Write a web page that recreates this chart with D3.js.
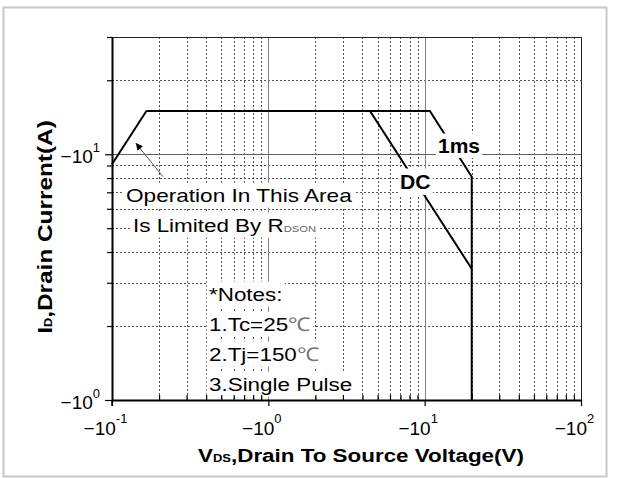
<!DOCTYPE html>
<html>
<head>
<meta charset="utf-8">
<script src="https://cdn.jsdelivr.net/npm/d3@7"></script>
<style>
  body { margin: 0; background: #fff; }
  svg { display: block; font-family: "Liberation Sans", Arial, sans-serif; }
</style>
</head>
<body>
<div class="canva"></div>
<script>
// Safe operating area, log-log
// curve data (V, A)
const rdsonV = [0.1, 0.166];
const rdsonI = [9.1, 15];
const dcV = [0.166, 4.47, 20];
const dcI = [15, 15, 3.42];
const msV = [0.166, 10.8, 20, 20];
const msI = [15, 15, 8.1, 1];

const xMajor = [0.1, 1, 10, 100];
const xExp = ['-1', '0', '1', '2'];
const yMajor = [1, 10];
const yExp = ['0', '1'];
const tickBase = '\u221210';

const svg = d3.select('.canva').append('svg')
    .attr('width', 618)
    .attr('height', 478);

// outer light frame
svg.append('rect')
    .attr('x', 3.5).attr('y', 7.5)
    .attr('width', 603).attr('height', 469)
    .attr('fill', 'none')
    .attr('stroke', '#c8c8c8')
    .attr('stroke-width', 2);

const pLeft = 112, pRight = 581, pTop = 37, pBottom = 400;

const x = d3.scaleLog().domain([0.1, 100]).range([pLeft, pRight]);
const y = d3.scaleLog().domain([1, 30]).range([pBottom, pTop]);

const isDecade = v => Math.abs(Math.log10(v) - Math.round(Math.log10(v))) < 1e-9;

// grid
const grid = svg.append('g').attr('shape-rendering', 'crispEdges');
grid.selectAll('.vminor')
    .data(x.ticks().filter(v => !isDecade(v)))
    .enter().append('line')
    .attr('x1', d => Math.round(x(d)) + 0.5).attr('x2', d => Math.round(x(d)) + 0.5)
    .attr('y1', pTop).attr('y2', pBottom)
    .attr('stroke', '#555').attr('stroke-dasharray', '2,2');
grid.selectAll('.hminor')
    .data(y.ticks().filter(v => !isDecade(v) && v < 30))
    .enter().append('line')
    .attr('y1', d => Math.round(y(d)) + 0.5).attr('y2', d => Math.round(y(d)) + 0.5)
    .attr('x1', pLeft).attr('x2', pRight)
    .attr('stroke', '#555').attr('stroke-dasharray', '2,2');
grid.selectAll('.vmajor')
    .data([1, 10])
    .enter().append('line')
    .attr('x1', d => Math.round(x(d)) + 0.5).attr('x2', d => Math.round(x(d)) + 0.5)
    .attr('y1', pTop).attr('y2', pBottom)
    .attr('stroke', '#808080').attr('stroke-width', 1.5);
grid.append('line')
    .attr('x1', pLeft).attr('x2', pRight)
    .attr('y1', Math.round(y(10)) + 0.5).attr('y2', Math.round(y(10)) + 0.5)
    .attr('stroke', '#606060');

// top and right border
grid.append('path')
    .attr('d', `M${pLeft},${pTop + 0.5}H${pRight + 0.5}V${pBottom}`)
    .attr('fill', 'none')
    .attr('stroke', '#222');

// curves
const line = d3.line().x(d => x(d[0])).y(d => y(d[1]));
const curves = [
    d3.zip(rdsonV, rdsonI),
    d3.zip(dcV, dcI),
    d3.zip(msV, msI)
];
svg.selectAll('.curve')
    .data(curves)
    .enter().append('path')
    .attr('class', 'curve')
    .attr('d', line)
    .attr('fill', 'none')
    .attr('stroke', '#000')
    .attr('stroke-width', 2)
    .attr('stroke-linejoin', 'miter');

// arrow to the RDS(on) line
svg.append('defs').append('marker')
    .attr('id', 'head')
    .attr('viewBox', '0 0 10 10')
    .attr('refX', 10).attr('refY', 5)
    .attr('markerWidth', 9).attr('markerHeight', 7)
    .attr('markerUnits', 'userSpaceOnUse')
    .attr('orient', 'auto')
    .append('path').attr('d', 'M0,0L10,5L0,10Z').attr('fill', '#000');
svg.append('line')
    .attr('x1', x(0.212)).attr('y1', y(8.1))
    .attr('x2', x(0.142)).attr('y2', y(11.1))
    .attr('stroke', '#555')
    .attr('stroke-width', 1)
    .attr('marker-end', 'url(#head)');

// text with white box behind it
function boxedText(px, py, parts, o) {
    const g = svg.append('g')
        .attr('transform', `translate(${px},${py}) ${o.rot ? 'rotate(-90)' : ''} scale(${o.sx || 1},1)`);
    const t = g.append('text')
        .attr('font-size', o.size)
        .attr('font-weight', o.weight || 'normal')
        .attr('text-anchor', o.anchor || 'start')
        .attr('fill', '#000');
    parts.forEach(p => {
        const s = t.append('tspan').text(p.t);
        if (p.size) s.attr('font-size', p.size);
        if (p.fill) s.attr('fill', p.fill);
        if (p.weight) s.attr('font-weight', p.weight);
    });
    if (o.bg) {
        const b = t.node().getBBox();
        const padX = o.padX == null ? 2 : o.padX, padY = o.padY == null ? 3 : o.padY;
        g.insert('rect', 'text')
            .attr('x', b.x - padX).attr('y', b.y - padY)
            .attr('width', b.width + 2 * padX).attr('height', b.height + 2 * padY)
            .attr('fill', '#fff');
    }
    return g;
}

boxedText(438, 153, [{t: '1ms'}], {size: 20, weight: 'bold', sx: 1.05, bg: true, padY: 1});
boxedText(400, 189, [{t: 'DC'}], {size: 20, weight: 'bold', sx: 1.06, bg: true, padY: 2});

boxedText(126, 202, [{t: 'Operation In This Area'}], {size: 19, sx: 1.19, bg: true, padY: 2});
boxedText(133, 232, [{t: 'Is Limited By R'}, {t: 'DSON', size: 9.5, fill: '#666'}],
    {size: 19, sx: 1.18, bg: true, padY: 2});

const notes = [
    [{t: '*Notes:'}],
    [{t: '1.Tc=25'}, {t: '\u2103', fill: '#777'}],
    [{t: '2.Tj=150'}, {t: '\u2103', fill: '#777'}],
    [{t: '3.Single Pulse'}]
];
notes.forEach((n, i) => {
    boxedText(209, 301 + i * 30, n, {size: 19, sx: 1.18, bg: true, padY: 2});
});

// axes
const xAxisMinor = d3.axisBottom(x)
    .tickValues(x.ticks().filter(v => !isDecade(v)))
    .tickSizeInner(-5).tickSizeOuter(0)
    .tickFormat('');
const xAxis = d3.axisBottom(x)
    .tickValues(xMajor)
    .tickSizeInner(6).tickSizeOuter(0)
    .tickFormat('');
const yAxisMinor = d3.axisLeft(y)
    .tickValues(y.ticks().filter(v => !isDecade(v)))
    .tickSizeInner(5).tickSizeOuter(0)
    .tickFormat('');
const yAxis = d3.axisLeft(y)
    .tickValues(yMajor)
    .tickSizeInner(7).tickSizeOuter(0)
    .tickFormat('');

const gx = svg.append('g').attr('transform', `translate(0,${pBottom})`);
gx.append('g').call(xAxisMinor).select('.domain').remove();
const gxm = gx.append('g').call(xAxis);

const gy = svg.append('g').attr('transform', `translate(${pLeft},0)`);
gy.append('g').call(yAxisMinor).select('.domain').remove();
const gym = gy.append('g').call(yAxis);

svg.selectAll('.tick line').attr('stroke', '#000').attr('stroke-width', 1.2);
gxm.select('.domain').attr('stroke', '#000').attr('stroke-width', 2);
gym.select('.domain').attr('stroke', '#000').attr('stroke-width', 2);
// y axis runs a little below the x axis like the major ticks
gy.append('line').attr('x1', 0).attr('x2', 0).attr('y1', pBottom).attr('y2', pBottom + 6)
    .attr('stroke', '#000').attr('stroke-width', 1.5);

gxm.selectAll('.tick text').each(function(d, i) {
    const t = d3.select(this)
        .attr('y', 35).attr('dy', null).attr('dx', -7)
        .attr('font-size', 19).attr('fill', '#000')
        .attr('font-family', '"Liberation Sans", Arial, sans-serif')
        .attr('text-anchor', 'middle');
    t.append('tspan').text(tickBase);
    t.append('tspan').attr('font-size', 13).attr('dy', -12).text(xExp[i]);
});
gym.selectAll('.tick text').each(function(d, i) {
    const t = d3.select(this)
        .attr('x', -12).attr('dy', 8)
        .attr('font-size', 19).attr('fill', '#000')
        .attr('font-family', '"Liberation Sans", Arial, sans-serif')
        .attr('text-anchor', 'end');
    t.append('tspan').text(tickBase);
    t.append('tspan').attr('font-size', 13).attr('dy', -11).text(yExp[i]);
});

// axis titles
boxedText(198, 462, [{t: 'V'}, {t: 'DS', size: 11}, {t: ',Drain To Source Voltage(V)'}],
    {size: 19, weight: 'bold', sx: 1.18});
boxedText(52, 227, [{t: 'I'}, {t: 'D', size: 11}, {t: ',Drain Current(A)'}],
    {size: 21, weight: 'bold', sx: 1.16, anchor: 'middle', rot: true});
</script>
</body>
</html>
